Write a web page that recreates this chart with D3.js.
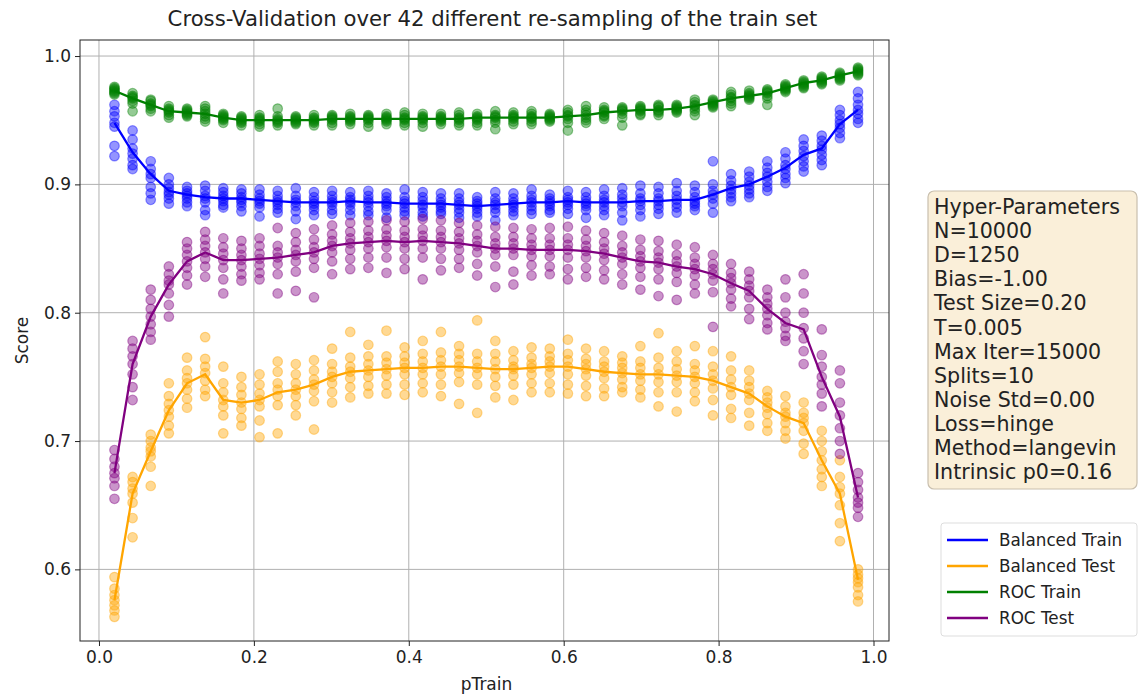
<!DOCTYPE html>
<html>
<head>
<meta charset="utf-8">
<script src="https://cdn.jsdelivr.net/npm/d3@7"></script>
<style>
  body { margin: 0; background: white; }
  text { font-family: "DejaVu Sans", sans-serif; fill: #222; }
</style>
</head>
<body>
<svg id="chart" width="1142" height="696"></svg>
<script>
// pTrain values (42 re-samplings)
const pTrain = [0.0200, 0.0434, 0.0668, 0.0902, 0.1137, 0.1371, 0.1605, 0.1839, 0.2073, 0.2307,
  0.2541, 0.2776, 0.3010, 0.3244, 0.3478, 0.3712, 0.3946, 0.4180, 0.4415, 0.4649,
  0.4883, 0.5117, 0.5351, 0.5585, 0.5820, 0.6054, 0.6288, 0.6522, 0.6756, 0.6990,
  0.7224, 0.7459, 0.7693, 0.7927, 0.8161, 0.8395, 0.8629, 0.8863, 0.9098, 0.9332,
  0.9566, 0.9800];

const seriesNames = ["Balanced Train", "Balanced Test", "ROC Train", "ROC Test"];
const seriesColors = ["blue", "orange", "green", "purple"];

const xTicks = [0.0, 0.2, 0.4, 0.6, 0.8, 1.0];
const yTicks = [0.6, 0.7, 0.8, 0.9, 1.0];

const hyperParams = ["Hyper-Parameters", "N=10000", "D=1250", "Bias=-1.00", "Test Size=0.20",
  "T=0.005", "Max Iter=15000", "Splits=10", "Noise Std=0.00", "Loss=hinge",
  "Method=langevin", "Intrinsic p0=0.16"];

// mean lines
const balTrainMean = [0.948, 0.925, 0.908, 0.895, 0.892, 0.890, 0.889, 0.889, 0.888, 0.887,
  0.886, 0.886, 0.886, 0.887, 0.886, 0.886, 0.885, 0.885, 0.885, 0.884,
  0.883, 0.884, 0.885, 0.886, 0.886, 0.887, 0.886, 0.886, 0.886, 0.887,
  0.887, 0.888, 0.888, 0.892, 0.897, 0.900, 0.906, 0.913, 0.923, 0.928,
  0.947, 0.958];
const balTestMean = [0.576, 0.659, 0.692, 0.724, 0.745, 0.752, 0.732, 0.730, 0.732, 0.738,
  0.740, 0.744, 0.750, 0.754, 0.755, 0.756, 0.757, 0.757, 0.758, 0.758,
  0.757, 0.756, 0.756, 0.757, 0.758, 0.758, 0.756, 0.754, 0.753, 0.752,
  0.752, 0.751, 0.750, 0.747, 0.742, 0.737, 0.727, 0.719, 0.714, 0.685,
  0.659, 0.592];
const rocTrainMean = [0.973, 0.967, 0.962, 0.957, 0.956, 0.955, 0.952, 0.950, 0.950, 0.950,
  0.950, 0.950, 0.951, 0.951, 0.951, 0.951, 0.951, 0.951, 0.951, 0.951,
  0.952, 0.952, 0.952, 0.952, 0.952, 0.953, 0.954, 0.956, 0.957, 0.958,
  0.958, 0.959, 0.961, 0.964, 0.967, 0.969, 0.971, 0.975, 0.979, 0.981,
  0.985, 0.988];
const rocTestMean = [0.675, 0.760, 0.797, 0.822, 0.840, 0.847, 0.841, 0.841, 0.842, 0.843,
  0.845, 0.847, 0.852, 0.854, 0.855, 0.856, 0.855, 0.856, 0.855, 0.854,
  0.852, 0.850, 0.850, 0.849, 0.849, 0.849, 0.848, 0.846, 0.843, 0.840,
  0.839, 0.836, 0.834, 0.830, 0.823, 0.817, 0.803, 0.792, 0.787, 0.750,
  0.719, 0.656];

// individual split scores (one row per pTrain)
const balTrainPts = [
  [0.962,0.957,0.953,0.948,0.945,0.930,0.922],
  [0.942,0.935,0.928,0.924,0.920,0.915,0.912],
  [0.918,0.912,0.908,0.905,0.898,0.893,0.888],
  [0.905,0.900,0.897,0.894,0.892,0.889,0.885],
  [0.898,0.895,0.893,0.891,0.889,0.886,0.883],
  [0.899,0.895,0.891,0.889,0.886,0.880,0.876],
  [0.897,0.894,0.891,0.889,0.887,0.884,0.882],
  [0.896,0.893,0.890,0.888,0.886,0.883,0.879],
  [0.896,0.892,0.889,0.887,0.885,0.882,0.875],
  [0.895,0.891,0.888,0.886,0.884,0.881,0.878],
  [0.897,0.891,0.888,0.886,0.883,0.879,0.873],
  [0.894,0.890,0.887,0.885,0.883,0.880,0.876],
  [0.895,0.891,0.888,0.886,0.884,0.880,0.877],
  [0.894,0.890,0.888,0.886,0.884,0.880,0.876],
  [0.895,0.891,0.888,0.886,0.883,0.879,0.876],
  [0.893,0.890,0.887,0.885,0.883,0.880,0.874],
  [0.896,0.890,0.887,0.885,0.882,0.879,0.876],
  [0.894,0.890,0.887,0.884,0.882,0.878,0.875],
  [0.893,0.889,0.886,0.884,0.882,0.879,0.877],
  [0.893,0.889,0.886,0.884,0.881,0.878,0.874],
  [0.890,0.887,0.885,0.883,0.881,0.878,0.875],
  [0.894,0.889,0.886,0.884,0.881,0.878,0.872],
  [0.893,0.889,0.886,0.884,0.882,0.879,0.876],
  [0.896,0.891,0.888,0.886,0.883,0.880,0.877],
  [0.892,0.889,0.887,0.885,0.883,0.880,0.878],
  [0.895,0.890,0.888,0.886,0.884,0.881,0.877],
  [0.894,0.890,0.887,0.885,0.883,0.880,0.874],
  [0.896,0.891,0.888,0.886,0.883,0.880,0.876],
  [0.897,0.892,0.889,0.886,0.883,0.878,0.872],
  [0.899,0.893,0.889,0.887,0.884,0.880,0.875],
  [0.898,0.893,0.889,0.887,0.884,0.881,0.877],
  [0.901,0.895,0.891,0.888,0.885,0.882,0.878],
  [0.899,0.894,0.890,0.887,0.885,0.883,0.880],
  [0.918,0.900,0.895,0.892,0.889,0.885,0.878],
  [0.908,0.903,0.899,0.896,0.893,0.890,0.887],
  [0.910,0.906,0.902,0.899,0.896,0.893,0.890],
  [0.918,0.913,0.909,0.906,0.902,0.898,0.895],
  [0.925,0.920,0.915,0.912,0.908,0.905,0.901],
  [0.935,0.930,0.926,0.922,0.918,0.914,0.910],
  [0.938,0.934,0.930,0.927,0.923,0.919,0.915],
  [0.958,0.954,0.950,0.947,0.944,0.940,0.936],
  [0.972,0.967,0.962,0.958,0.955,0.951,0.948]
];
const balTestPts = [
  [0.594,0.585,0.580,0.576,0.572,0.568,0.563],
  [0.672,0.668,0.663,0.659,0.652,0.640,0.625],
  [0.705,0.700,0.695,0.692,0.688,0.680,0.665],
  [0.745,0.735,0.729,0.724,0.719,0.712,0.706],
  [0.765,0.755,0.749,0.745,0.740,0.733,0.726],
  [0.781,0.764,0.758,0.753,0.747,0.740,0.735],
  [0.758,0.745,0.738,0.732,0.727,0.720,0.706],
  [0.750,0.742,0.736,0.730,0.725,0.718,0.712],
  [0.752,0.744,0.737,0.732,0.727,0.716,0.703],
  [0.762,0.754,0.745,0.740,0.735,0.728,0.706],
  [0.760,0.752,0.745,0.740,0.735,0.728,0.720],
  [0.763,0.755,0.748,0.744,0.739,0.731,0.709],
  [0.772,0.760,0.754,0.750,0.745,0.738,0.730],
  [0.785,0.765,0.758,0.754,0.749,0.742,0.734],
  [0.775,0.766,0.760,0.755,0.750,0.743,0.737],
  [0.786,0.766,0.761,0.756,0.751,0.744,0.737],
  [0.773,0.766,0.761,0.757,0.752,0.744,0.736],
  [0.778,0.768,0.762,0.757,0.752,0.745,0.738],
  [0.785,0.769,0.763,0.758,0.752,0.744,0.735],
  [0.774,0.768,0.763,0.758,0.753,0.746,0.729],
  [0.794,0.768,0.762,0.757,0.752,0.744,0.722],
  [0.778,0.768,0.762,0.756,0.750,0.743,0.734],
  [0.770,0.763,0.758,0.756,0.751,0.744,0.732],
  [0.773,0.765,0.760,0.757,0.752,0.745,0.738],
  [0.772,0.766,0.762,0.758,0.753,0.745,0.738],
  [0.779,0.768,0.763,0.758,0.752,0.744,0.737],
  [0.772,0.764,0.760,0.756,0.751,0.743,0.735],
  [0.770,0.762,0.758,0.754,0.749,0.741,0.735],
  [0.766,0.761,0.757,0.753,0.748,0.742,0.738],
  [0.774,0.762,0.757,0.752,0.747,0.740,0.734],
  [0.784,0.765,0.757,0.752,0.746,0.738,0.727],
  [0.770,0.762,0.756,0.751,0.746,0.738,0.723],
  [0.774,0.760,0.755,0.750,0.745,0.738,0.731],
  [0.770,0.758,0.752,0.747,0.741,0.732,0.720],
  [0.766,0.755,0.748,0.742,0.736,0.725,0.718],
  [0.755,0.747,0.742,0.737,0.732,0.722,0.712],
  [0.739,0.734,0.730,0.726,0.721,0.714,0.708],
  [0.735,0.727,0.722,0.719,0.714,0.708,0.702],
  [0.730,0.722,0.718,0.714,0.708,0.698,0.690],
  [0.708,0.700,0.692,0.685,0.678,0.672,0.665],
  [0.685,0.672,0.664,0.659,0.650,0.636,0.622],
  [0.600,0.596,0.593,0.590,0.586,0.580,0.575]
];
const rocTrainPts = [
  [0.976,0.975,0.974,0.973,0.972,0.971,0.970],
  [0.971,0.969,0.968,0.967,0.965,0.963,0.957],
  [0.966,0.965,0.963,0.962,0.961,0.959,0.957],
  [0.961,0.959,0.958,0.957,0.956,0.954,0.952],
  [0.959,0.958,0.957,0.956,0.955,0.954,0.953],
  [0.961,0.959,0.957,0.955,0.953,0.951,0.949],
  [0.955,0.954,0.953,0.952,0.951,0.950,0.948],
  [0.953,0.952,0.951,0.950,0.949,0.948,0.946],
  [0.954,0.952,0.951,0.950,0.949,0.947,0.945],
  [0.959,0.953,0.951,0.950,0.949,0.948,0.946],
  [0.953,0.952,0.951,0.950,0.949,0.948,0.947],
  [0.954,0.952,0.951,0.950,0.949,0.948,0.946],
  [0.954,0.953,0.952,0.951,0.950,0.948,0.946],
  [0.955,0.953,0.952,0.951,0.950,0.949,0.947],
  [0.954,0.953,0.952,0.951,0.950,0.948,0.945],
  [0.955,0.953,0.952,0.951,0.950,0.949,0.947],
  [0.956,0.954,0.952,0.951,0.950,0.948,0.946],
  [0.955,0.953,0.952,0.951,0.950,0.948,0.945],
  [0.955,0.953,0.952,0.951,0.950,0.949,0.947],
  [0.956,0.954,0.952,0.951,0.950,0.948,0.946],
  [0.955,0.953,0.952,0.951,0.950,0.948,0.946],
  [0.957,0.954,0.953,0.952,0.950,0.948,0.943],
  [0.956,0.954,0.953,0.952,0.951,0.949,0.947],
  [0.957,0.955,0.953,0.952,0.951,0.949,0.947],
  [0.955,0.954,0.953,0.952,0.951,0.950,0.949],
  [0.958,0.956,0.954,0.953,0.951,0.948,0.942],
  [0.961,0.958,0.956,0.954,0.952,0.950,0.948],
  [0.960,0.958,0.957,0.956,0.954,0.953,0.951],
  [0.960,0.959,0.958,0.957,0.955,0.952,0.946],
  [0.961,0.960,0.959,0.958,0.957,0.955,0.954],
  [0.962,0.961,0.960,0.958,0.957,0.956,0.954],
  [0.962,0.961,0.960,0.959,0.958,0.957,0.956],
  [0.966,0.964,0.962,0.961,0.959,0.957,0.954],
  [0.966,0.965,0.964,0.963,0.962,0.961,0.960],
  [0.972,0.970,0.968,0.967,0.965,0.963,0.961],
  [0.973,0.971,0.970,0.969,0.968,0.967,0.966],
  [0.974,0.973,0.972,0.971,0.969,0.967,0.962],
  [0.978,0.977,0.976,0.975,0.974,0.973,0.972],
  [0.981,0.980,0.979,0.978,0.977,0.976,0.975],
  [0.984,0.983,0.982,0.981,0.980,0.979,0.978],
  [0.987,0.986,0.985,0.984,0.983,0.982,0.981],
  [0.991,0.990,0.989,0.988,0.987,0.986,0.985]
];
const rocTestPts = [
  [0.693,0.686,0.680,0.675,0.671,0.665,0.655],
  [0.778,0.772,0.766,0.760,0.752,0.742,0.732],
  [0.818,0.810,0.803,0.797,0.791,0.785,0.779],
  [0.836,0.830,0.825,0.822,0.815,0.806,0.797],
  [0.855,0.850,0.845,0.840,0.835,0.829,0.822],
  [0.863,0.857,0.852,0.847,0.842,0.836,0.828],
  [0.858,0.851,0.846,0.841,0.835,0.826,0.815],
  [0.856,0.850,0.845,0.841,0.836,0.830,0.825],
  [0.858,0.852,0.846,0.842,0.837,0.831,0.826],
  [0.866,0.852,0.847,0.843,0.838,0.830,0.815],
  [0.862,0.855,0.849,0.845,0.840,0.832,0.817],
  [0.865,0.857,0.851,0.847,0.842,0.835,0.812],
  [0.868,0.861,0.856,0.852,0.847,0.840,0.830],
  [0.870,0.863,0.858,0.854,0.849,0.842,0.834],
  [0.871,0.864,0.859,0.855,0.850,0.843,0.835],
  [0.872,0.865,0.860,0.856,0.851,0.843,0.831],
  [0.871,0.864,0.859,0.855,0.850,0.842,0.834],
  [0.873,0.865,0.860,0.856,0.850,0.843,0.826],
  [0.872,0.864,0.859,0.855,0.850,0.842,0.833],
  [0.870,0.863,0.858,0.854,0.849,0.842,0.835],
  [0.868,0.861,0.856,0.852,0.847,0.838,0.829],
  [0.867,0.859,0.854,0.850,0.845,0.836,0.820],
  [0.866,0.859,0.854,0.850,0.845,0.832,0.822],
  [0.865,0.858,0.853,0.849,0.844,0.837,0.829],
  [0.866,0.858,0.853,0.849,0.844,0.836,0.830],
  [0.867,0.858,0.853,0.849,0.843,0.834,0.826],
  [0.864,0.857,0.852,0.848,0.843,0.835,0.828],
  [0.862,0.855,0.850,0.846,0.841,0.833,0.826],
  [0.860,0.852,0.847,0.843,0.838,0.830,0.822],
  [0.857,0.849,0.844,0.840,0.835,0.828,0.818],
  [0.856,0.848,0.843,0.839,0.834,0.826,0.813],
  [0.853,0.845,0.840,0.836,0.831,0.824,0.810],
  [0.851,0.843,0.838,0.834,0.829,0.822,0.815],
  [0.845,0.838,0.834,0.830,0.825,0.816,0.789],
  [0.838,0.831,0.827,0.823,0.818,0.811,0.805],
  [0.832,0.826,0.821,0.817,0.812,0.803,0.795],
  [0.818,0.812,0.807,0.803,0.798,0.792,0.787],
  [0.826,0.812,0.800,0.793,0.788,0.782,0.778],
  [0.830,0.815,0.800,0.788,0.780,0.770,0.760],
  [0.787,0.767,0.758,0.750,0.744,0.737,0.727],
  [0.755,0.745,0.730,0.720,0.710,0.700,0.690],
  [0.675,0.668,0.662,0.656,0.652,0.648,0.641]
];

const means = [balTrainMean, balTestMean, rocTrainMean, rocTestMean];
const points = [balTrainPts, balTestPts, rocTrainPts, rocTestPts];

const svg = d3.select("#chart");
svg.append("rect").attr("width", 1142).attr("height", 696).attr("fill", "white");

const plot = {left: 80, right: 889, top: 40, bottom: 641};

const x = d3.scaleLinear().domain([-0.0245, 1.0200]).range([plot.left, plot.right]);
const y = d3.scaleLinear().domain([0.5442, 1.0125]).range([plot.bottom, plot.top]);

// grid
svg.append("g")
  .selectAll("line")
  .data(xTicks)
  .enter().append("line")
    .attr("x1", d => x(d)).attr("x2", d => x(d))
    .attr("y1", plot.top).attr("y2", plot.bottom)
    .attr("stroke", "#b0b0b0").attr("stroke-width", 1);
svg.append("g")
  .selectAll("line")
  .data(yTicks)
  .enter().append("line")
    .attr("x1", plot.left).attr("x2", plot.right)
    .attr("y1", d => y(d)).attr("y2", d => y(d))
    .attr("stroke", "#b0b0b0").attr("stroke-width", 1);

// axes
let xAxis = svg.append("g")
  .attr("transform", "translate(0," + plot.bottom + ")")
  .call(d3.axisBottom(x).tickValues(xTicks).tickFormat(d3.format(".1f")).tickSize(5).tickPadding(5));
let yAxis = svg.append("g")
  .attr("transform", "translate(" + plot.left + ",0)")
  .call(d3.axisLeft(y).tickValues(yTicks).tickFormat(d3.format(".1f")).tickSize(5).tickPadding(4));
[xAxis, yAxis].forEach(a => {
  a.select(".domain").remove();
  a.selectAll("text").style("font-size", "17px").style("font-family", "DejaVu Sans").attr("fill", "#222");
  a.selectAll(".tick line").attr("stroke", "#222");
});

// scatter + mean line per series
seriesNames.forEach((name, s) => {
  let flat = [];
  points[s].forEach((row, i) => row.forEach(v => flat.push([pTrain[i], v])));
  svg.append("g")
    .selectAll("circle")
    .data(flat)
    .enter().append("circle")
      .attr("cx", d => x(d[0]))
      .attr("cy", d => y(d[1]))
      .attr("r", 4.8)
      .attr("fill", seriesColors[s])
      .attr("fill-opacity", 0.42)
      .attr("stroke", seriesColors[s])
      .attr("stroke-opacity", 0.42)
      .attr("stroke-width", 1.2);

  let line = d3.line().x((d, i) => x(pTrain[i])).y(d => y(d));
  svg.append("path")
    .datum(means[s])
    .attr("d", line)
    .attr("fill", "none")
    .attr("stroke", seriesColors[s])
    .attr("stroke-width", 2.3);
});

// frame
svg.append("rect")
  .attr("x", plot.left).attr("y", plot.top)
  .attr("width", plot.right - plot.left).attr("height", plot.bottom - plot.top)
  .attr("fill", "none").attr("stroke", "#222").attr("stroke-width", 1);

// title and labels
svg.append("text")
  .attr("x", (plot.left + plot.right) / 2 + 8).attr("y", 26)
  .attr("text-anchor", "middle")
  .style("font-size", "21.2px")
  .text("Cross-Validation over 42 different re-sampling of the train set");
svg.append("text")
  .attr("x", (plot.left + plot.right) / 2 + 2).attr("y", 690)
  .attr("text-anchor", "middle")
  .style("font-size", "17px")
  .text("pTrain");
svg.append("text")
  .attr("transform", "translate(28," + ((plot.top + plot.bottom) / 2) + ") rotate(-90)")
  .attr("text-anchor", "middle")
  .style("font-size", "17px")
  .text("Score");

// hyper-parameter box
svg.append("rect")
  .attr("x", 928).attr("y", 191).attr("width", 209).attr("height", 298)
  .attr("rx", 6)
  .attr("fill", "#faefd9").attr("stroke", "#c9bfae").attr("stroke-width", 1.2);
svg.append("g")
  .selectAll("text")
  .data(hyperParams)
  .enter().append("text")
    .attr("x", 934)
    .attr("y", (d, i) => 214 + i * 24.1)
    .style("font-size", "20.6px")
    .text(d => d);

// legend
svg.append("rect")
  .attr("x", 941).attr("y", 523).attr("width", 196).attr("height", 113)
  .attr("rx", 3)
  .attr("fill", "white").attr("stroke", "#dddddd").attr("stroke-width", 1);
let legend = svg.append("g")
  .selectAll("g")
  .data(seriesNames)
  .enter().append("g")
    .attr("transform", (d, i) => "translate(0," + (540 + i * 26) + ")");
legend.append("line")
  .attr("x1", 947).attr("x2", 988)
  .attr("stroke", (d, i) => seriesColors[i])
  .attr("stroke-width", 2.3);
legend.append("text")
  .attr("x", 999).attr("y", 6)
  .style("font-size", "16.8px")
  .text(d => d);
</script>
</body>
</html>
